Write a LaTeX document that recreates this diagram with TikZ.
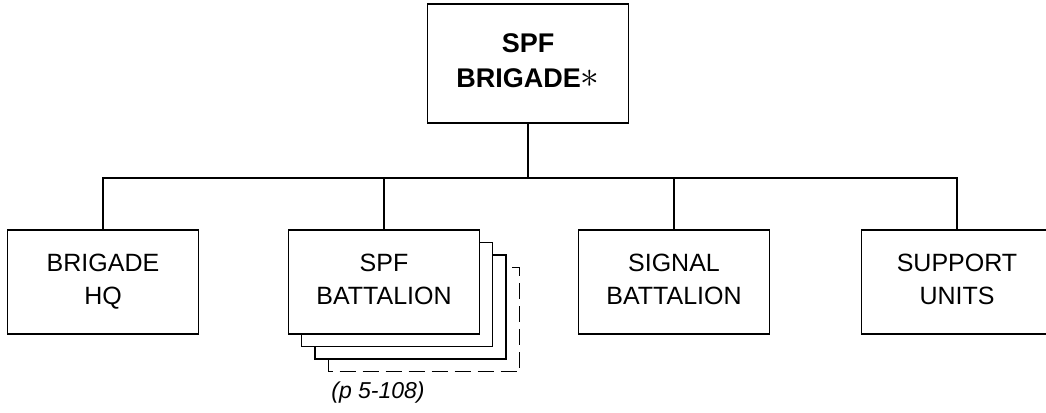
\documentclass[tikz,border=0pt]{standalone}
\usepackage{fontspec}
\setmainfont{Liberation Sans}
\usetikzlibrary{positioning}

\begin{document}
\begin{tikzpicture}[
    x=1pt, y=-1pt,
    % Box Styles
    unitbox/.style={draw=black, fill=white, line width=1.8pt, minimum width=191pt, minimum height=104pt, inner sep=0pt, align=center, text depth=6pt, font=\fontsize{25}{33}\selectfont},
    cmdbox/.style={unitbox, minimum width=201pt, minimum height=119pt, font=\bfseries\fontsize{27}{35}\selectfont},
    % Stack Styles
    layer/.style={draw=black, fill=white, line width=1.8pt},
    ghost/.style={draw=black, line width=1.1pt, dash pattern=on 16pt off 7pt},
    % Connector Styles
    link/.style={line width=1.8pt},
    note/.style={font=\itshape\fontsize{23}{28}\selectfont}
]
    \useasboundingbox (0,0) rectangle (1046,412);

    % ==========================================
    % TOP: Brigade
    % ==========================================
    \node[cmdbox] (brigade) at (528,63.5) {SPF\\BRIGADE\scalebox{1.5}{$\ast$}};

    % ==========================================
    % STACK behind the battalion box
    % ==========================================
    \draw[ghost] (288+40.5,230+37.5) rectangle ++(191,104);
    \foreach \i in {2,1}
        \draw[layer] (288+13.5*\i,230+12.5*\i) rectangle ++(191,104);

    % ==========================================
    % CHILDREN
    % ==========================================
    \node[unitbox] (brigadehq) at (103,282) {BRIGADE\\HQ};
    \node[unitbox] (battalion) at (384,282) {SPF\\BATTALION};
    \node[unitbox] (signal) at (674,282) {SIGNAL\\BATTALION};
    \node[unitbox] (support) at (957,282) {SUPPORT\\UNITS};

    \node[note] (page) at (378,393) {(p 5-108)};

    % ==========================================
    % CONNECTORS
    % ==========================================
    \coordinate (bus) at (0,179);
    \draw[link] (brigadehq.north) -- ++(0,-51) -| (support.north);
    \draw[link] (brigade.south) -- (brigade.south |- bus);
    \draw[link] (battalion.north) -- (battalion.north |- bus);
    \draw[link] (signal.north) -- (signal.north |- bus);

\end{tikzpicture}
\end{document}
